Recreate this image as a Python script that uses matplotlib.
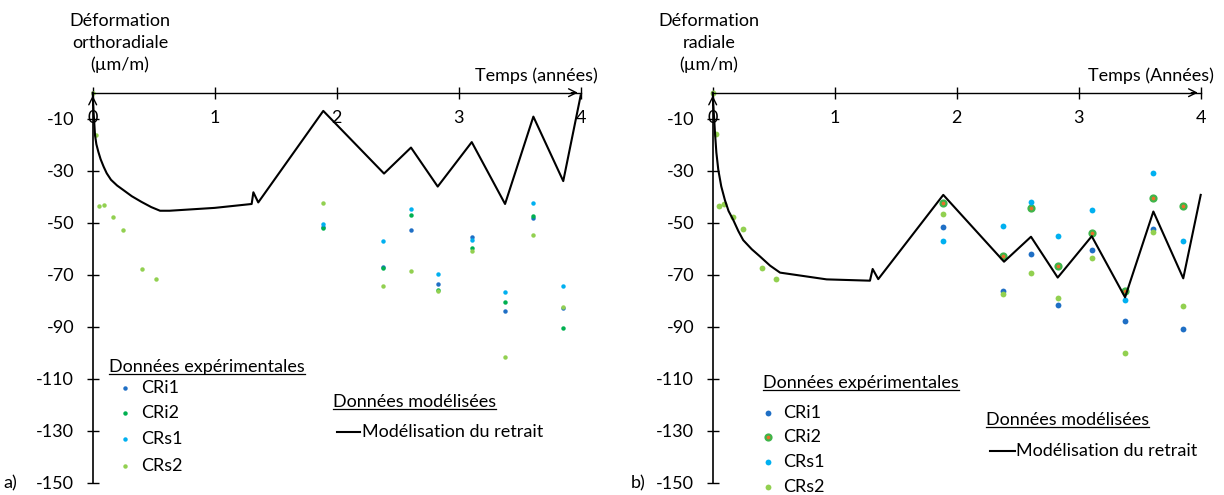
import matplotlib
matplotlib.use("Agg")
import matplotlib.pyplot as plt
from matplotlib.lines import Line2D

plt.rcParams['font.family'] = ['Lato', 'DejaVu Sans']
plt.rcParams['axes.unicode_minus'] = False

# ---- data ----
# model curves (a: orthoradial, b: radial)
t_mod_a = [0, 0.008, 0.019, 0.03, 0.046, 0.065, 0.09, 0.115, 0.15, 0.2, 0.25, 0.32, 0.4,
           0.48, 0.552, 0.63, 1.0, 1.303, 1.317, 1.357, 1.89, 2.388, 2.609, 2.828,
           3.107, 3.38, 3.612, 3.857, 4.0]
def_mod_a = [0, -8, -16.3, -19.8, -22.7, -25.6, -28.5, -31, -33.5, -35.7, -37.4, -39.8, -42,
             -44, -45.4, -45.4, -44.3, -42.8, -38.3, -42.2, -7.0, -31.1, -21.1, -36.1,
             -19.0, -42.8, -9.2, -34.0, -1.0]

t_mod_b = [0, 0.008, 0.019, 0.03, 0.046, 0.07, 0.1, 0.13, 0.169, 0.21, 0.25, 0.32, 0.388,
           0.47, 0.552, 0.934, 1.289, 1.311, 1.357, 1.89, 2.388, 2.609, 2.828, 3.107,
           3.38, 3.612, 3.857, 4.0]
def_mod_b = [0, -7, -15.6, -23, -29.7, -36, -41.3, -45.5, -49, -53.2, -56.7, -60.2, -63,
             -66.5, -69.2, -71.8, -72.3, -67.8, -71.7, -39.3, -65, -55.4, -71.1, -55.2,
             -78.7, -45.7, -71.4, -39.3]

# experimental points
t_early = [0, 0.025, 0.052, 0.093, 0.169, 0.251, 0.40, 0.519]
t_exp = [1.89, 2.382, 2.609, 2.828, 3.107, 3.38, 3.612, 3.857]

cri1_a = [-51.5, -67.0, -52.7, -73.6, -55.6, -84.0, -48.1, -82.9]
cri2_a = [-51.9, -67.3, -47.2, -75.9, -59.6, -80.4, -47.3, -90.4]
crs1_a = [-50.6, -56.9, -44.9, -69.6, -56.8, -76.8, -42.6, -74.2]
crs2_a = [0, -16.3, -43.6, -43.2, -47.8, -52.7, -67.8, -71.8,
          -42.6, -74.2, -68.5, -76.3, -61.0, -101.5, -54.7, -82.4]

cri1_b = [-51.8, -76.3, -62.0, -81.8, -60.5, -87.9, -52.4, -90.8]
cri2_b = [-42.6, -62.8, -44.2, -66.5, -54.1, -76.3, -40.6, -43.7]
crs1_b = [-57.2, -51.1, -42.0, -55.1, -45.1, -79.7, -30.8, -57.2]
crs2_b = [0, -15.9, -43.5, -42.8, -47.7, -52.3, -67.3, -71.7,
          -46.5, -77.3, -69.2, -79.1, -63.6, -100.2, -53.7, -82.0]

x_ticks = [0, 1, 2, 3, 4]
y_ticks = [-10, -30, -50, -70, -90, -110, -130, -150]

c_cri1 = '#1F6FC5'
c_cri2 = '#00B050'
c_crs1 = '#00B0F0'
c_crs2 = '#92D050'
c_orange = '#E8702A'
c_cri2_b = '#3FB54A'

W, H = 1224, 495
FS = 13


def fx(px):
    return px / W


def fy(py):
    return 1 - py / H


fig = plt.figure(figsize=(W / 100, H / 100), dpi=100)


def setup_axes(left_px):
    ax = fig.add_axes([fx(left_px), fy(482.7), 488 / W, 390 / H])
    ax.set_xlim(0, 4)
    ax.set_ylim(-150, 0)
    ax.patch.set_alpha(0)
    for s in ['top', 'right']:
        ax.spines[s].set_visible(False)
    ax.spines['left'].set_position(('data', 0))
    ax.spines['bottom'].set_position(('data', 0))
    ax.spines['left'].set_linewidth(1.2)
    ax.spines['bottom'].set_linewidth(1.0)
    ax.set_xticks(x_ticks)
    ax.set_yticks(y_ticks)
    ax.tick_params(axis='x', direction='inout', length=8.6, width=1, pad=8.0,
                   labelsize=FS)
    ax.tick_params(axis='y', direction='inout', length=8.6, width=1, pad=9.0,
                   labelsize=FS)
    # arrow heads
    ax.annotate('', xy=(4, 0), xytext=(3.9, 0),
                arrowprops=dict(arrowstyle='->', lw=1, mutation_scale=14),
                annotation_clip=False)
    ax.annotate('', xy=(0, 0), xytext=(0, -6),
                arrowprops=dict(arrowstyle='->', lw=1, mutation_scale=14),
                annotation_clip=False)
    return ax


def underline_title(txt):
    fig.canvas.draw()
    bb = txt.get_window_extent()
    inv = fig.transFigure.inverted()
    (x0, y0), (x1, y1) = inv.transform([[bb.x0, bb.y0], [bb.x1, bb.y0]])
    fig.add_artist(Line2D([x0, x1], [y0 + 0.002, y0 + 0.002], color='black', lw=0.9,
                          transform=fig.transFigure))


def legend_block(title_xy, rows, entries, model_title_xy, model_line, model_text_x, model_y):
    t1 = fig.text(fx(title_xy[0]), fy(title_xy[1]), 'Données expérimentales',
                  fontsize=FS, va='center', ha='left')
    underline_title(t1)
    for (label, style), py in zip(entries, rows[1]):
        fig.add_artist(Line2D([fx(rows[0])], [fy(py)], linestyle='none',
                              transform=fig.transFigure, **style))
        fig.text(fx(rows[2]), fy(py), label, fontsize=FS, va='center', ha='left')
    t2 = fig.text(fx(model_title_xy[0]), fy(model_title_xy[1]), 'Données modélisées',
                  fontsize=FS, va='center', ha='left')
    underline_title(t2)
    fig.add_artist(Line2D([fx(model_line[0]), fx(model_line[1])], [fy(model_y), fy(model_y)],
                          color='black', lw=1.5, transform=fig.transFigure))
    fig.text(fx(model_text_x), fy(model_y), 'Modélisation du retrait', fontsize=FS,
             va='center', ha='left')


# ---------- panel a ----------
ax1 = setup_axes(92.7)
ax1.plot(t_mod_a, def_mod_a, color='black', lw=1.5, clip_on=False, zorder=3)
sty_a = dict(marker='o', ms=3.2, mew=0)
ax1.plot(t_exp, cri1_a, linestyle='none', color=c_cri1, clip_on=False, **sty_a)
ax1.plot(t_exp, cri2_a, linestyle='none', color=c_cri2, clip_on=False, **sty_a)
ax1.plot(t_exp, crs1_a, linestyle='none', color=c_crs1, clip_on=False, **sty_a)
ax1.plot(t_early + t_exp, crs2_a, linestyle='none', color=c_crs2, clip_on=False, **sty_a)

fig.text(fx(120), fy(43), 'Déformation\northoradiale\n(µm/m)', fontsize=FS,
         ha='center', va='center', linespacing=1.45)
fig.text(fx(598), fy(76), 'Temps (années)', fontsize=FS, ha='right', va='center')
fig.text(fx(3), fy(483), 'a)', fontsize=FS, ha='left', va='center')

legend_block((109, 366.7),
             (125, [387.7, 413.3, 439.3, 465.7], 141),
             [('CRi1', dict(marker='o', ms=3.2, mew=0, color=c_cri1)),
              ('CRi2', dict(marker='o', ms=3.2, mew=0, color=c_cri2)),
              ('CRs1', dict(marker='o', ms=3.2, mew=0, color=c_crs1)),
              ('CRs2', dict(marker='o', ms=3.2, mew=0, color=c_crs2))],
             (333, 401.7), (336.7, 360), 362, 432.3)

# ---------- panel b ----------
ax2 = setup_axes(712.7)
ax2.plot(t_mod_b, def_mod_b, color='black', lw=1.5, clip_on=False, zorder=3)
sty_b = dict(marker='o', ms=4.2, mew=0)
ax2.plot(t_exp, cri1_b, linestyle='none', color=c_cri1, clip_on=False, **sty_b)
ax2.plot(t_exp, cri2_b, linestyle='none', marker='o', ms=4.3, mfc=c_orange,
         mec=c_cri2_b, mew=1.6, clip_on=False)
ax2.plot(t_exp, crs1_b, linestyle='none', color=c_crs1, clip_on=False, **sty_b)
ax2.plot(t_early + t_exp, crs2_b, linestyle='none', color=c_crs2, clip_on=False, **sty_b)

fig.text(fx(709), fy(43), 'Déformation\nradiale\n(µm/m)', fontsize=FS,
         ha='center', va='center', linespacing=1.45)
fig.text(fx(1214), fy(76), 'Temps (Années)', fontsize=FS, ha='right', va='center')
fig.text(fx(631), fy(483), 'b)', fontsize=FS, ha='left', va='center')

legend_block((763, 383.3),
             (768.3, [413.3, 436.7, 461.7, 486.7], 783.3),
             [('CRi1', dict(marker='o', ms=4.2, mew=0, color=c_cri1)),
              ('CRi2', dict(marker='o', ms=4.3, mfc=c_orange, mec=c_cri2_b, mew=1.6)),
              ('CRs1', dict(marker='o', ms=4.2, mew=0, color=c_crs1)),
              ('CRs2', dict(marker='o', ms=4.2, mew=0, color=c_crs2))],
             (986, 420), (990, 1015), 1016, 450.7)

fig.savefig('out.png', dpi=100)
